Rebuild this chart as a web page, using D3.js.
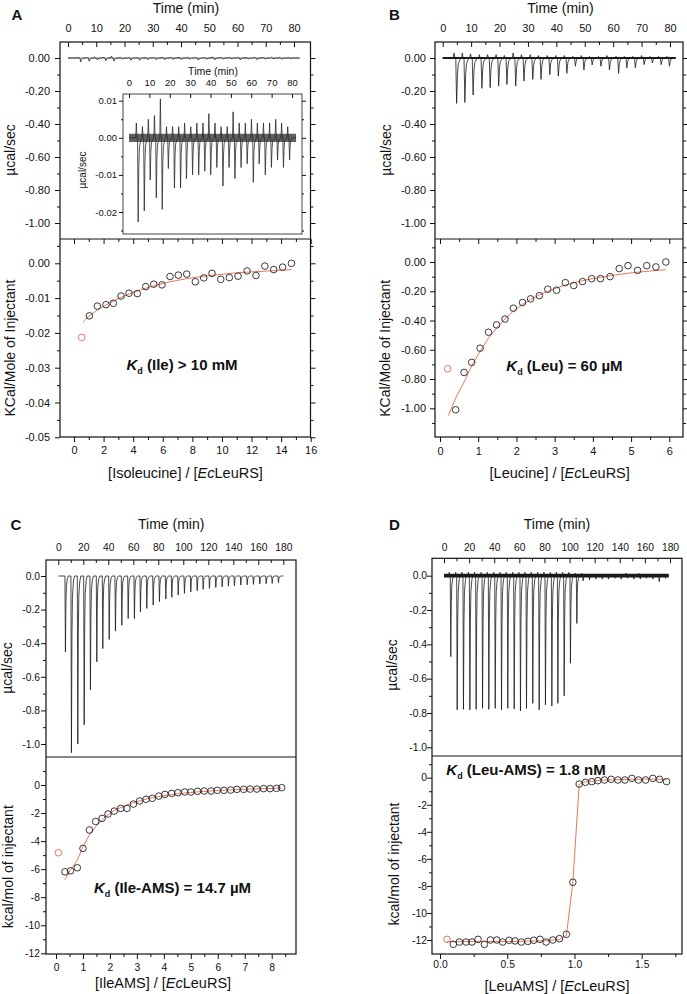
<!DOCTYPE html>
<html>
<head>
<meta charset="utf-8">
<script src="https://cdn.jsdelivr.net/npm/d3@7"></script>
<style>
body { margin: 0; background: #fff; }
svg { display: block; font-family: "Liberation Sans", Arial, sans-serif; }
</style>
</head>
<body>
<div id="chart"></div>
<script>
"use strict"
// ---- tick values ----
const time80 = [0, 10, 20, 30, 40, 50, 60, 70, 80];
const time80Minor = [5, 15, 25, 35, 45, 55, 65, 75];
const time180 = [0, 20, 40, 60, 80, 100, 120, 140, 160, 180];
const time180Minor = [10, 30, 50, 70, 90, 110, 130, 150, 170];
const powerTicks = [0, -0.2, -0.4, -0.6, -0.8, -1.0];
const powerMinor = [-0.1, -0.3, -0.5, -0.7, -0.9];
const insetTicks = [0.01, 0, -0.01, -0.02];
const insetMinor = [0.005, -0.005, -0.015, -0.025];
const aXTicks = [0, 2, 4, 6, 8, 10, 12, 14, 16];
const aXMinor = [1, 3, 5, 7, 9, 11, 13, 15];
const aYTicks = [0, -0.01, -0.02, -0.03, -0.04, -0.05];
const aYMinor = [0.005, -0.005, -0.015, -0.025, -0.035, -0.045];
const bXTicks = [0, 1, 2, 3, 4, 5, 6];
const bXMinor = [0.5, 1.5, 2.5, 3.5, 4.5, 5.5];
const bYTicks = [0, -0.2, -0.4, -0.6, -0.8, -1.0];
const bYMinor = [0.1, -0.1, -0.3, -0.5, -0.7, -0.9, -1.1];
const cXTicks = [0, 1, 2, 3, 4, 5, 6, 7, 8];
const cXMinor = [0.5, 1.5, 2.5, 3.5, 4.5, 5.5, 6.5, 7.5, 8.5];
const heatTicks = [0, -2, -4, -6, -8, -10, -12];
const heatMinor = [1, -1, -3, -5, -7, -9, -11];
const dXTicks = [0, 0.5, 1.0, 1.5];
const dXMinor = [0.25, 0.75, 1.25, 1.75];

// ---- panel A: isoleucine ----
const aTime = [4.2, 7.2, 10.1, 13.1, 16.0, 19.0, 22.0, 25.0, 27.9, 30.9, 33.9, 36.9, 39.8, 42.8, 45.8, 48.8, 51.7, 54.7, 57.7, 60.7, 63.6, 66.6, 69.6, 72.6, 75.5, 78.5];
const aDip = [-0.0227, -0.0197, -0.0114, -0.0162, -0.0193, -0.0083, -0.0135, -0.0135, -0.011, -0.010, -0.010, -0.009, -0.010, -0.008, -0.013, -0.008, -0.011, -0.008, -0.007, -0.012, -0.007, -0.010, -0.008, -0.006, -0.008, -0.006];
const aUp = [0.004, 0.003, 0.005, 0.006, 0.0105, 0.003, 0.003, 0.003, 0.004, 0.003, 0.004, 0.004, 0.0065, 0.004, 0.003, 0.003, 0.007, 0.004, 0.004, 0.005, 0.004, 0.004, 0.004, 0.005, 0.004, 0.003];
const aRatio = [0.52, 1.04, 1.58, 2.16, 2.66, 3.18, 3.72, 4.28, 4.85, 5.39, 5.95, 6.49, 7.05, 7.62, 8.2, 8.77, 9.33, 9.92, 10.5, 11.09, 11.7, 12.3, 12.9, 13.5, 14.1, 14.7];
const aHeat = [-0.0213, -0.0151, -0.0123, -0.0119, -0.0115, -0.0094, -0.0086, -0.0087, -0.0067, -0.006, -0.0062, -0.0038, -0.0034, -0.0031, -0.0053, -0.0042, -0.0029, -0.0046, -0.0041, -0.0037, -0.0022, -0.0035, -0.0008, -0.0018, -0.0011, 0.0];
const aFitX = [0.59, 1.04, 1.6, 2.16, 2.9, 3.72, 4.5, 5.39, 6.5, 7.62, 8.8, 9.92, 11.1, 12.3, 13.5, 14.7];
const aFitY = [-0.017, -0.0151, -0.0133, -0.012, -0.0103, -0.0088, -0.0076, -0.0065, -0.0053, -0.0044, -0.0037, -0.0032, -0.0027, -0.0024, -0.0021, -0.0018];

// ---- panel B: leucine ----
const bTime = [4.6, 7.5, 10.4, 13.5, 16.4, 19.4, 22.3, 25.4, 28.3, 31.4, 34.3, 37.4, 40.4, 43.4, 46.4, 49.4, 52.3, 55.4, 58.4, 61.6, 64.5, 67.5, 70.6, 73.5, 76.6, 79.5];
const bDip = [-0.275, -0.27, -0.224, -0.184, -0.18, -0.17, -0.16, -0.17, -0.14, -0.13, -0.13, -0.10, -0.11, -0.093, -0.05, -0.073, -0.042, -0.05, -0.073, -0.093, -0.06, -0.06, -0.04, -0.03, -0.04, -0.05];
const bUp = [0.03, 0.03, 0.025, 0.02, 0.02, 0.02, 0.015, 0.03, 0.02, 0.02, 0.015, 0.015, 0.015, 0.015, 0.01, 0.015, 0.01, 0.01, 0.015, 0.01, 0.01, 0.01, 0.015, 0.01, 0.01, 0.01];
const bRatio = [0.2, 0.41, 0.63, 0.83, 1.05, 1.27, 1.48, 1.70, 1.92, 2.16, 2.37, 2.60, 2.82, 3.05, 3.28, 3.50, 3.73, 3.97, 4.20, 4.45, 4.69, 4.92, 5.17, 5.41, 5.65, 5.91];
const bHeat = [-0.73, -1.01, -0.755, -0.686, -0.589, -0.48, -0.43, -0.39, -0.316, -0.277, -0.252, -0.23, -0.186, -0.193, -0.141, -0.161, -0.134, -0.114, -0.114, -0.10, -0.045, -0.025, -0.057, -0.025, -0.034, 0.0];
const bFitX = [0.22, 0.41, 0.63, 0.83, 1.05, 1.27, 1.48, 1.7, 1.92, 2.16, 2.37, 2.6, 2.82, 3.05, 3.28, 3.5, 3.73, 3.97, 4.2, 4.45, 4.69, 4.92, 5.17, 5.41, 5.65, 5.91];
const bFitY = [-1.05, -0.93, -0.82, -0.71, -0.61, -0.52, -0.45, -0.39, -0.335, -0.29, -0.255, -0.225, -0.2, -0.178, -0.158, -0.142, -0.128, -0.115, -0.104, -0.094, -0.085, -0.077, -0.07, -0.064, -0.058, -0.053];

// ---- panel C: Ile-AMS ----
const cTime = [5.3, 10.1, 15.2, 20.3, 25.3, 30.4, 35.2, 40.3, 45.3, 50.4, 55.5, 60.5, 65.3, 70.4, 75.5, 80.5, 85.6, 90.4, 95.5, 100.5, 105.6, 110.7, 115.5, 120.5, 125.6, 130.7, 135.7, 140.5, 145.6, 150.7, 155.7, 160.8, 165.9, 170.7, 175.7];
const cDip = [-0.452, -1.052, -1.0, -0.886, -0.677, -0.511, -0.432, -0.378, -0.328, -0.293, -0.253, -0.253, -0.213, -0.193, -0.173, -0.153, -0.137, -0.127, -0.113, -0.103, -0.094, -0.088, -0.08, -0.074, -0.068, -0.064, -0.06, -0.058, -0.054, -0.052, -0.05, -0.048, -0.046, -0.044, -0.04];
const cRatio = [0.09, 0.33, 0.54, 0.79, 1.0, 1.24, 1.47, 1.71, 1.93, 2.16, 2.4, 2.63, 2.87, 3.1, 3.34, 3.57, 3.81, 4.04, 4.29, 4.52, 4.77, 5.0, 5.25, 5.5, 5.75, 5.98, 6.23, 6.48, 6.71, 6.96, 7.2, 7.45, 7.7, 7.94, 8.18, 8.37];
const cHeat = [-4.83, -6.19, -6.12, -5.9, -4.52, -3.21, -2.6, -2.38, -2.07, -1.86, -1.67, -1.67, -1.36, -1.14, -1.02, -0.95, -0.79, -0.67, -0.6, -0.55, -0.5, -0.5, -0.45, -0.43, -0.43, -0.38, -0.38, -0.36, -0.31, -0.31, -0.29, -0.29, -0.26, -0.26, -0.24, -0.19];
const cFitX = [0.33, 0.54, 0.79, 1.0, 1.24, 1.47, 1.71, 1.93, 2.16, 2.4, 2.87, 3.34, 3.81, 4.29, 4.77, 5.25, 5.75, 6.23, 6.71, 7.2, 7.7, 8.18, 8.37];
const cFitY = [-6.75, -6.05, -5.36, -4.4, -3.55, -2.98, -2.5, -2.12, -1.82, -1.6, -1.26, -1.0, -0.82, -0.68, -0.57, -0.49, -0.42, -0.37, -0.33, -0.29, -0.26, -0.23, -0.22];

// ---- panel D: Leu-AMS ----
const dTime = [5.0, 10.1, 15.1, 20.2, 25.2, 30.3, 35.3, 40.4, 45.4, 50.4, 55.5, 60.5, 65.3, 70.3, 75.4, 80.4, 85.5, 90.3, 95.3, 100.3, 105.4, 110.4, 115.5, 120.5, 125.6, 130.6, 135.7, 140.7, 145.8, 150.8, 155.9, 160.9, 166.0, 171.0, 176.1];
const dDip = [-0.472, -0.782, -0.779, -0.782, -0.779, -0.773, -0.779, -0.773, -0.782, -0.773, -0.777, -0.788, -0.773, -0.744, -0.782, -0.753, -0.76, -0.744, -0.70, -0.51, -0.278, -0.03, -0.025, -0.02, -0.02, -0.02, -0.015, -0.02, -0.015, -0.02, -0.02, -0.015, -0.02, -0.035, -0.015];
const dUp = [0.02, 0.02, 0.02, 0.02, 0.02, 0.02, 0.02, 0.02, 0.02, 0.02, 0.02, 0.02, 0.02, 0.02, 0.02, 0.02, 0.02, 0.02, 0.02, 0.02, 0.015, 0.015, 0.01, 0.01, 0.01, 0.01, 0.01, 0.01, 0.015, 0.01, 0.015, 0.01, 0.01, 0.01, 0.01];
const dRatio = [0.052, 0.099, 0.144, 0.194, 0.238, 0.283, 0.33, 0.375, 0.422, 0.466, 0.514, 0.558, 0.605, 0.653, 0.697, 0.744, 0.789, 0.839, 0.888, 0.94, 0.988, 1.035, 1.082, 1.129, 1.174, 1.223, 1.273, 1.323, 1.375, 1.427, 1.476, 1.529, 1.583, 1.633, 1.685];
const dHeat = [-11.95, -12.32, -12.15, -12.15, -12.15, -11.95, -12.32, -12.0, -12.0, -12.15, -12.02, -12.07, -12.15, -12.1, -12.02, -11.95, -12.15, -12.0, -11.9, -11.58, -7.73, -0.47, -0.34, -0.29, -0.22, -0.17, -0.12, -0.17, -0.17, -0.05, -0.17, -0.17, -0.05, -0.12, -0.29];
const dFitX = [0.052, 0.3, 0.6, 0.8, 0.89, 0.94, 0.988, 1.035, 1.082, 1.2, 1.4, 1.6, 1.685];
const dFitY = [-12.12, -12.12, -12.1, -12.05, -11.95, -11.65, -7.73, -0.5, -0.3, -0.18, -0.12, -0.1, -0.14];

const INK = "#111";
const FIT = "#e4664c";

// builds a thermogram path from the injection times and peak heights
function spikeTrace(times, dips, ups, w, tStart, tEnd) {
    let pts = [[tStart, 0]];
    for (let i = 0; i < times.length; i++) {
        let t = times[i], h = dips[i];
        if (ups) {
            pts.push([t - 3 * w, 0], [t - 2 * w, ups[i]], [t - w, 0]);
        }
        pts.push([t, 0], [t + w, h], [t + 2 * w, h * 0.35], [t + 3 * w, h * 0.12], [t + 5 * w, h * 0.03], [t + 7 * w, 0]);
    }
    pts.push([tEnd, 0]);
    return pts;
}

function fmtFixed(n) {
    return function(v) { return v.toFixed(n); };
}

function addAxis(g, axisFn, scale, vals, o) {
    let a = axisFn(scale).tickValues(vals).tickSize(o.size || 0).tickPadding(o.pad || 0).tickFormat(o.fmt || "");
    let sel = g.append("g").attr("transform", "translate(" + o.x + "," + o.y + ")").call(a);
    sel.select(".domain").remove();
    sel.attr("font-family", null).attr("font-size", null);
    sel.selectAll("text").attr("font-size", o.fs || 11).attr("fill", INK);
    sel.selectAll("line").attr("stroke", INK).attr("stroke-width", 1);
    return sel;
}

function scaleFrom(m) {
    return d3.scaleLinear().domain(m[0]).range(m[1]);
}

function drawPanel(svg, p) {
    let g = svg.append("g");
    let t = scaleFrom(p.tMap), u = scaleFrom(p.uMap), x = scaleFrom(p.xMap), y = scaleFrom(p.yMap);

    // raw heat trace
    let tr = p.trace;
    if (tr.band) {
        g.append("path").datum([tr.start, tr.end])
            .attr("d", d3.area().x(d => t(d)).y0(u(-tr.band)).y1(u(tr.band)))
            .attr("fill", "#1a1a1a");
    }
    g.append("path").datum(spikeTrace(tr.times, tr.dips, tr.ups, tr.w, tr.start, tr.end))
        .attr("d", d3.line().x(d => t(d[0])).y(d => u(d[1])))
        .attr("fill", "none").attr("stroke", "#1a1a1a").attr("stroke-width", 0.8);

    // frame
    g.append("rect").attr("x", p.left).attr("y", p.top)
        .attr("width", p.right - p.left).attr("height", p.bottom - p.top)
        .attr("fill", "none").attr("stroke", INK).attr("stroke-width", 1.2);
    g.append("line").attr("x1", p.left).attr("x2", p.right).attr("y1", p.mid).attr("y2", p.mid)
        .attr("stroke", INK).attr("stroke-width", 1.2);

    // top time axis: inward ticks, labels above
    addAxis(g, d3.axisBottom, t, p.tTicks, {x: 0, y: p.top, size: 5});
    addAxis(g, d3.axisBottom, t, p.tMinor, {x: 0, y: p.top, size: 3});
    addAxis(g, d3.axisTop, t, p.tTicks, {x: 0, y: p.top, pad: p.tPad, fmt: String, fs: p.fs});

    // upper y axis
    addAxis(g, d3.axisLeft, u, powerTicks, {x: p.left, y: 0, size: 5, pad: p.lPad - 5, fmt: fmtFixed(p.uDec), fs: p.fs});
    addAxis(g, d3.axisLeft, u, powerMinor, {x: p.left, y: 0, size: 3});
    // lower y axis
    addAxis(g, d3.axisLeft, y, p.yTicks, {x: p.left, y: 0, size: 5, pad: p.lPad - 5, fmt: fmtFixed(p.yDec), fs: p.fs});
    addAxis(g, d3.axisLeft, y, p.yMinor, {x: p.left, y: 0, size: 3});
    if (p.rightTicks) {
        addAxis(g, d3.axisRight, u, powerTicks, {x: p.right, y: 0, size: 5});
        addAxis(g, d3.axisRight, u, powerMinor, {x: p.right, y: 0, size: 3});
        addAxis(g, d3.axisRight, y, p.yTicks, {x: p.right, y: 0, size: 5});
        addAxis(g, d3.axisRight, y, p.yMinor, {x: p.right, y: 0, size: 3});
    }
    // bottom x axis
    addAxis(g, d3.axisBottom, x, p.xTicks, {x: 0, y: p.bottom, size: 5, pad: p.bPad - 5, fmt: fmtFixed(p.xDec), fs: p.fs});
    addAxis(g, d3.axisBottom, x, p.xMinor, {x: 0, y: p.bottom, size: 3});
    if (p.midTicks) {
        addAxis(g, d3.axisBottom, x, p.xTicks, {x: 0, y: p.mid, size: 5});
        addAxis(g, d3.axisBottom, x, p.xMinor, {x: 0, y: p.mid, size: 3});
    }

    // fit curve and integrated heats
    let fit = p.fitX.map((v, i) => [v, p.fitY[i]]);
    g.append("path").datum(fit)
        .attr("d", d3.line().x(d => x(d[0])).y(d => y(d[1])))
        .attr("fill", "none").attr("stroke", FIT).attr("stroke-width", 0.9);
    g.selectAll(".pt").data(p.ratio).enter().append("circle")
        .attr("cx", d => x(d)).attr("cy", (d, i) => y(p.heat[i])).attr("r", 3.3)
        .attr("fill", "none").attr("stroke", (d, i) => i == 0 ? FIT : "#222").attr("stroke-width", 0.9);

    // texts
    g.append("text").attr("x", p.letter[0]).attr("y", p.letter[1]).attr("font-size", 15)
        .attr("font-weight", "bold").attr("fill", INK).text(p.name);
    g.append("text").attr("x", p.timeTitle[0]).attr("y", p.timeTitle[1]).attr("text-anchor", "middle")
        .attr("font-size", 14).attr("fill", INK).text("Time (min)");
    g.append("text").attr("transform", "translate(" + p.uLabel[0] + "," + p.uLabel[1] + ") rotate(-90)")
        .attr("text-anchor", "middle").attr("font-size", 14).attr("fill", INK).text("µcal/sec");
    g.append("text").attr("transform", "translate(" + p.yLabel[0] + "," + p.yLabel[1] + ") rotate(-90)")
        .attr("text-anchor", "middle").attr("font-size", 14).attr("fill", INK).text(p.yLabel[2]);
    let xl = g.append("text").attr("x", p.xLabel[0]).attr("y", p.xLabel[1]).attr("text-anchor", "middle")
        .attr("font-size", 14.5).attr("fill", INK);
    xl.append("tspan").text(p.xLabel[2] + " / [");
    xl.append("tspan").attr("font-style", "italic").text("Ec");
    xl.append("tspan").text("LeuRS]");
    let kd = g.append("text").attr("x", p.kd[0]).attr("y", p.kd[1]).attr("text-anchor", "middle")
        .attr("font-size", 15).attr("font-weight", "bold").attr("fill", INK);
    kd.append("tspan").attr("font-style", "italic").text("K");
    kd.append("tspan").attr("font-size", 9).attr("dy", 4).text("d");
    kd.append("tspan").attr("dy", -4).text(p.kd[2]);
}

function drawInset(svg, p) {
    let g = svg.append("g");
    let t = scaleFrom(p.tMap), u = scaleFrom(p.uMap);
    g.append("rect").attr("x", p.left).attr("y", p.top)
        .attr("width", p.right - p.left).attr("height", p.bottom - p.top).attr("fill", "#fff");
    let tr = p.trace;
    g.append("path").datum([tr.start, tr.end])
        .attr("d", d3.area().x(d => t(d)).y0(u(-p.band)).y1(u(p.band)))
        .attr("fill", "#3a3a3a").attr("opacity", 0.8);
    g.append("path").datum(spikeTrace(tr.times, tr.dips, tr.ups, tr.w, tr.start, tr.end))
        .attr("d", d3.line().x(d => t(d[0])).y(d => u(d[1])))
        .attr("fill", "none").attr("stroke", "#2a2a2a").attr("stroke-width", 0.8);
    g.append("rect").attr("x", p.left).attr("y", p.top)
        .attr("width", p.right - p.left).attr("height", p.bottom - p.top)
        .attr("fill", "none").attr("stroke", "#444").attr("stroke-width", 1);
    addAxis(g, d3.axisBottom, t, time80, {x: 0, y: p.top, size: 4});
    addAxis(g, d3.axisTop, t, time80, {x: 0, y: p.top, pad: 8.3, fmt: String, fs: 9.5});
    addAxis(g, d3.axisLeft, u, insetTicks, {x: p.left, y: 0, size: 4, pad: 2, fmt: fmtFixed(2), fs: 9.5});
    addAxis(g, d3.axisLeft, u, insetMinor, {x: p.left, y: 0, size: 2});
    addAxis(g, d3.axisRight, u, insetTicks, {x: p.right, y: 0, size: 4});
    addAxis(g, d3.axisRight, u, insetMinor, {x: p.right, y: 0, size: 2});
    g.append("text").attr("x", 213).attr("y", 75).attr("text-anchor", "middle")
        .attr("font-size", 10.5).attr("fill", INK).text("Time (min)");
    g.append("text").attr("transform", "translate(86,170) rotate(-90)")
        .attr("text-anchor", "middle").attr("font-size", 10).attr("fill", INK).text("µcal/sec");
}

function init() {
    const svg = d3.select("#chart").append("svg").attr("width", 687).attr("height", 994);

    let aTrace = {times: aTime, dips: aDip, ups: aUp, w: 0.3, start: 0, end: 82, band: 0.0014};

    drawPanel(svg, {
        name: "A", letter: [11.5, 20], left: 60, right: 310.5, top: 42, mid: 239, bottom: 437,
        tMap: [[0, 80], [68, 294]], uMap: [[0, -1], [58, 223]],
        xMap: [[0, 16], [74, 310.7]], yMap: [[0, -0.05], [263.3, 437.3]],
        tTicks: time80, tMinor: time80Minor, uDec: 2,
        xTicks: aXTicks, xMinor: aXMinor, xDec: 0, yTicks: aYTicks, yMinor: aYMinor, yDec: 2,
        trace: aTrace,
        ratio: aRatio, heat: aHeat, fitX: aFitX, fitY: aFitY,
        fs: 11, tPad: 9.7, lPad: 10, bPad: 9.5, rightTicks: true, midTicks: true,
        timeTitle: [186, 13], uLabel: [15, 150], yLabel: [15, 348, "KCal/Mole of Injectant"],
        xLabel: [185.5, 477.5, "[Isoleucine]"], kd: [182, 370, " (Ile) > 10 mM"]
    });

    drawInset(svg, {
        left: 123, right: 302, top: 94, bottom: 234, band: 0.0011,
        tMap: [[0, 80], [129, 292]], uMap: [[0.01, -0.02], [100.7, 212]],
        trace: aTrace
    });

    drawPanel(svg, {
        name: "B", letter: [389, 20], left: 435, right: 683, top: 42, mid: 239, bottom: 437,
        tMap: [[0, 80], [442.7, 670]], uMap: [[0, -1], [58, 223]],
        xMap: [[0, 6], [440, 669.3]], yMap: [[0, -1], [262, 408.3]],
        tTicks: time80, tMinor: time80Minor, uDec: 2,
        xTicks: bXTicks, xMinor: bXMinor, xDec: 0, yTicks: bYTicks, yMinor: bYMinor, yDec: 2,
        trace: {times: bTime, dips: bDip, ups: bUp, w: 0.3, start: 0, end: 82, band: 0.006},
        ratio: bRatio, heat: bHeat, fitX: bFitX, fitY: bFitY,
        fs: 11, tPad: 9.7, lPad: 9, bPad: 10.5, rightTicks: true, midTicks: true,
        timeTitle: [560.5, 13], uLabel: [391, 150], yLabel: [389.5, 348.3, "KCal/Mole of Injectant"],
        xLabel: [559.7, 478, "[Leucine]"], kd: [564.5, 370.7, " (Leu) = 60 µM"]
    });

    drawPanel(svg, {
        name: "C", letter: [10.5, 529.5], left: 46, right: 296, top: 560, mid: 757, bottom: 954,
        tMap: [[0, 180], [58.3, 283.3]], uMap: [[0, -1], [576, 744]],
        xMap: [[0, 8], [56, 271.7]], yMap: [[0, -12], [785, 953.3]],
        tTicks: time180, tMinor: time180Minor, uDec: 1,
        xTicks: cXTicks, xMinor: cXMinor, xDec: 0, yTicks: heatTicks, yMinor: heatMinor, yDec: 0,
        trace: {times: cTime, dips: cDip, ups: null, w: 0.4, start: 0, end: 180, band: 0},
        ratio: cRatio, heat: cHeat, fitX: cFitX, fitY: cFitY,
        fs: 10.3, tPad: 9.3, lPad: 6, bPad: 9.5, rightTicks: false, midTicks: false,
        timeTitle: [171.2, 529], uLabel: [12, 668], yLabel: [13, 866.7, "kcal/mol of injectant"],
        xLabel: [163, 988, "[IleAMS]"], kd: [172.5, 892.7, " (Ile-AMS) = 14.7 µM"]
    });

    drawPanel(svg, {
        name: "D", letter: [389, 529.5], left: 432, right: 682, top: 558.3, mid: 756, bottom: 954,
        tMap: [[0, 180], [444, 670]], uMap: [[0, -1], [575.7, 747.3]],
        xMap: [[0, 1.5], [440, 641.7]], yMap: [[0, -12], [777.7, 940]],
        tTicks: time180, tMinor: time180Minor, uDec: 1,
        xTicks: dXTicks, xMinor: dXMinor, xDec: 1, yTicks: heatTicks, yMinor: heatMinor, yDec: 0,
        trace: {times: dTime, dips: dDip, ups: dUp, w: 0.4, start: 0, end: 179, band: 0.011},
        ratio: dRatio, heat: dHeat, fitX: dFitX, fitY: dFitY,
        fs: 10.3, tPad: 7.5, lPad: 5, bPad: 7, rightTicks: false, midTicks: false,
        timeTitle: [557, 529], uLabel: [396.5, 665], yLabel: [399, 864, "kcal/mol of injectant"],
        xLabel: [557, 991, "[LeuAMS]"], kd: [526, 775, " (Leu-AMS) = 1.8 nM"]
    });
}

window.onload = init;
</script>
</body>
</html>
